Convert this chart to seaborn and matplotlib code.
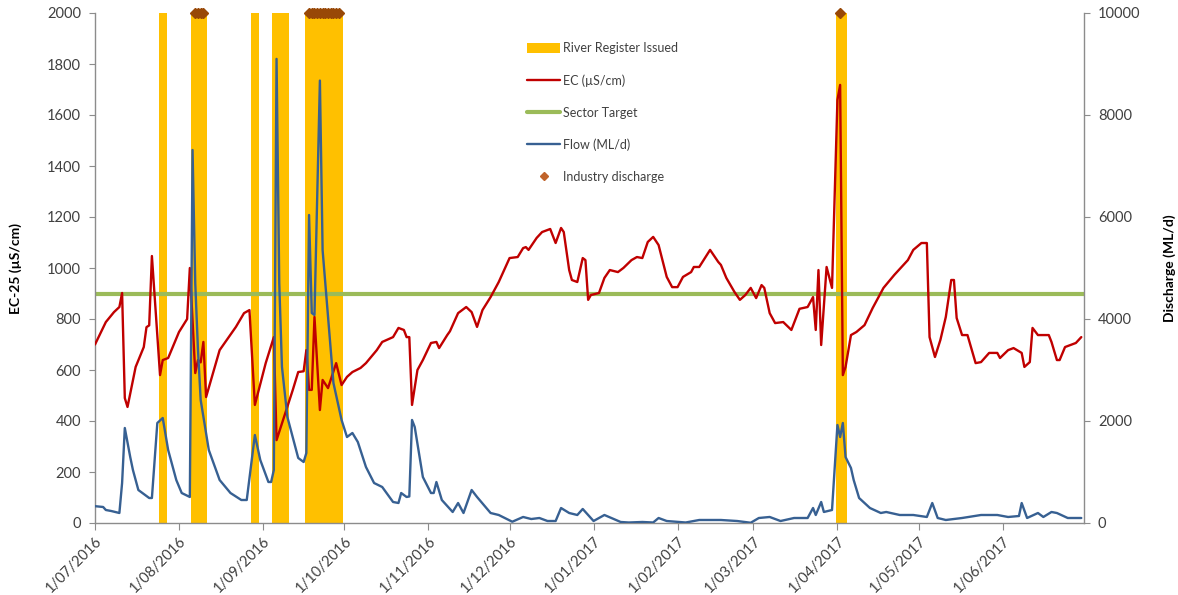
import pandas as pd
import matplotlib.pyplot as plt
import matplotlib.dates as mdates
import seaborn as sns
from matplotlib.patches import Patch
from matplotlib.lines import Line2D

sns.set_style('white')
plt.rcParams['font.family'] = ['Lato', 'DejaVu Sans']

# EC-25 readings (uS/cm)
ec_dates = ['2016-07-01', '2016-07-05', '2016-07-08', '2016-07-10', '2016-07-11', '2016-07-12', '2016-07-13',
            '2016-07-16', '2016-07-19', '2016-07-20', '2016-07-21', '2016-07-22', '2016-07-25', '2016-07-26',
            '2016-07-28', '2016-08-01', '2016-08-04', '2016-08-05', '2016-08-07', '2016-08-08', '2016-08-09',
            '2016-08-10', '2016-08-11', '2016-08-16', '2016-08-22', '2016-08-25', '2016-08-27', '2016-08-29',
            '2016-09-02', '2016-09-05', '2016-09-06', '2016-09-12', '2016-09-14', '2016-09-16', '2016-09-17',
            '2016-09-18', '2016-09-19', '2016-09-20', '2016-09-22', '2016-09-23', '2016-09-25', '2016-09-28',
            '2016-09-30', '2016-10-02', '2016-10-04', '2016-10-07', '2016-10-09', '2016-10-13', '2016-10-15',
            '2016-10-19', '2016-10-21', '2016-10-23', '2016-10-24', '2016-10-25', '2016-10-26', '2016-10-28',
            '2016-10-30', '2016-11-02', '2016-11-04', '2016-11-05', '2016-11-08', '2016-11-09', '2016-11-12',
            '2016-11-15', '2016-11-17', '2016-11-19', '2016-11-21', '2016-11-24', '2016-11-27', '2016-12-01',
            '2016-12-04', '2016-12-06', '2016-12-07', '2016-12-08', '2016-12-11', '2016-12-13', '2016-12-16',
            '2016-12-18', '2016-12-20', '2016-12-21', '2016-12-23', '2016-12-24', '2016-12-26', '2016-12-28',
            '2016-12-29', '2016-12-30', '2016-12-31', '2017-01-03', '2017-01-05', '2017-01-07', '2017-01-10',
            '2017-01-12', '2017-01-15', '2017-01-17', '2017-01-19', '2017-01-21', '2017-01-23', '2017-01-25',
            '2017-01-28', '2017-01-30', '2017-02-01', '2017-02-03', '2017-02-06', '2017-02-07', '2017-02-09',
            '2017-02-13', '2017-02-16', '2017-02-17', '2017-02-19', '2017-02-22', '2017-02-24', '2017-02-26',
            '2017-02-28', '2017-03-02', '2017-03-04', '2017-03-05', '2017-03-07', '2017-03-09', '2017-03-12',
            '2017-03-15', '2017-03-18', '2017-03-21', '2017-03-23', '2017-03-24', '2017-03-25', '2017-03-26',
            '2017-03-28', '2017-03-30', '2017-04-01', '2017-04-02', '2017-04-03', '2017-04-04', '2017-04-06',
            '2017-04-08', '2017-04-11', '2017-04-14', '2017-04-18', '2017-04-22', '2017-04-27', '2017-04-29',
            '2017-05-02', '2017-05-04', '2017-05-05', '2017-05-07', '2017-05-09', '2017-05-11', '2017-05-13',
            '2017-05-14', '2017-05-15', '2017-05-17', '2017-05-19', '2017-05-22', '2017-05-24', '2017-05-27',
            '2017-05-30', '2017-05-31', '2017-06-03', '2017-06-05', '2017-06-08', '2017-06-09', '2017-06-11',
            '2017-06-12', '2017-06-14', '2017-06-18', '2017-06-19', '2017-06-21', '2017-06-22', '2017-06-24',
            '2017-06-26', '2017-06-28', '2017-06-30']
ec_values = [700, 788, 827, 847, 902, 490, 455,
             612, 690, 768, 775, 1047, 580, 639,
             647, 749, 800, 1000, 588, 639, 630,
             710, 494, 678, 769, 823, 835, 463,
             627, 729, 325, 522, 592, 595, 678,
             522, 522, 808, 443, 561, 529, 627,
             541, 573, 592, 608, 627, 678, 710,
             729, 765, 757, 729, 729, 463, 600,
             639, 706, 710, 686, 737, 752, 823,
             847, 827, 769, 835, 886, 945, 1039,
             1043, 1078, 1082, 1071, 1118, 1141, 1153,
             1098, 1157, 1141, 992, 953, 945, 1039,
             1031, 875, 894, 902, 961, 992, 984,
             1000, 1031, 1043, 1039, 1102, 1122, 1090,
             965, 925, 925, 965, 984, 1004, 1004,
             1071, 1024, 1012, 961, 906, 875, 894,
             922, 882, 933, 922, 823, 784, 788,
             757, 840, 847, 886, 757, 992, 698,
             1004, 922, 1659, 1718, 580, 612, 737,
             749, 776, 843, 922, 973, 1031, 1071,
             1098, 1098, 729, 651, 718, 808, 953,
             953, 804, 737, 737, 627, 631, 667,
             667, 647, 678, 686, 667, 612, 631,
             765, 737, 737, 710, 639, 639, 690,
             698, 706, 729]

# river flow (ML/d)
flow_dates = ['2016-07-01', '2016-07-04', '2016-07-05', '2016-07-07', '2016-07-10', '2016-07-11', '2016-07-12',
              '2016-07-14', '2016-07-15', '2016-07-17', '2016-07-18', '2016-07-21', '2016-07-22', '2016-07-24',
              '2016-07-26', '2016-07-28', '2016-07-31', '2016-08-02', '2016-08-05', '2016-08-06', '2016-08-07',
              '2016-08-08', '2016-08-09', '2016-08-12', '2016-08-16', '2016-08-20', '2016-08-24', '2016-08-26',
              '2016-08-28', '2016-08-29', '2016-08-31', '2016-09-03', '2016-09-04', '2016-09-05', '2016-09-06',
              '2016-09-07', '2016-09-08', '2016-09-10', '2016-09-14', '2016-09-16', '2016-09-17', '2016-09-18',
              '2016-09-19', '2016-09-20', '2016-09-22', '2016-09-23', '2016-09-25', '2016-09-27', '2016-09-30',
              '2016-10-02', '2016-10-04', '2016-10-06', '2016-10-09', '2016-10-12', '2016-10-15', '2016-10-19',
              '2016-10-21', '2016-10-22', '2016-10-24', '2016-10-25', '2016-10-26', '2016-10-27', '2016-10-30',
              '2016-11-02', '2016-11-03', '2016-11-04', '2016-11-06', '2016-11-10', '2016-11-12', '2016-11-14',
              '2016-11-17', '2016-11-19', '2016-11-24', '2016-11-27', '2016-12-02', '2016-12-06', '2016-12-09',
              '2016-12-12', '2016-12-15', '2016-12-18', '2016-12-20', '2016-12-23', '2016-12-26', '2016-12-28',
              '2017-01-01', '2017-01-05', '2017-01-11', '2017-01-14', '2017-01-19', '2017-01-23', '2017-01-25',
              '2017-01-28', '2017-02-04', '2017-02-09', '2017-02-17', '2017-02-23', '2017-02-28', '2017-03-03',
              '2017-03-07', '2017-03-11', '2017-03-16', '2017-03-21', '2017-03-23', '2017-03-24', '2017-03-26',
              '2017-03-27', '2017-03-30', '2017-04-01', '2017-04-02', '2017-04-03', '2017-04-04', '2017-04-06',
              '2017-04-07', '2017-04-09', '2017-04-13', '2017-04-17', '2017-04-19', '2017-04-24', '2017-04-29',
              '2017-05-04', '2017-05-06', '2017-05-08', '2017-05-11', '2017-05-17', '2017-05-24', '2017-05-30',
              '2017-06-03', '2017-06-07', '2017-06-08', '2017-06-10', '2017-06-14', '2017-06-16', '2017-06-19',
              '2017-06-21', '2017-06-25', '2017-06-30']
flow_values = [330, 314, 255, 235, 196, 784, 1863,
               1294, 1039, 647, 608, 490, 490, 1961,
               2059, 1431, 843, 588, 510, 7314, 4700,
               3400, 2412, 1431, 843, 588, 451, 451,
               1294, 1725, 1235, 804, 804, 1039, 9100,
               4700, 3060, 2078, 1275, 1196, 1373, 6039,
               4118, 4078, 8675, 5350, 4040, 2745, 2020,
               1686, 1765, 1588, 1098, 784, 706, 412,
               392, 588, 510, 520, 2020, 1882, 902,
               588, 588, 804, 451, 216, 392, 196,
               647, 510, 196, 157, 25, 118, 78,
               98, 39, 39, 294, 196, 157, 275,
               39, 157, 20, 10, 20, 10, 98,
               39, 10, 59, 59, 39, 5, 98,
               118, 39, 98, 98, 294, 157, 412,
               216, 255, 1922, 1686, 1961, 1294, 1078,
               843, 490, 294, 196, 216, 157, 157,
               118, 392, 98, 59, 98, 157, 157,
               118, 137, 392, 98, 196, 118, 216,
               196, 98, 98]

# river register periods (drawn as full-height columns on the discharge axis)
register_start = ['2016-07-25', '2016-08-06', '2016-08-28', '2016-09-05', '2016-09-17', '2017-04-01']
register_end = ['2016-07-27', '2016-08-11', '2016-08-30', '2016-09-10', '2016-09-30', '2017-04-04']
register_level = [10000, 10000, 10000, 10000, 10000, 10000]

industry_dates = ['2016-08-07', '2016-08-08', '2016-08-09', '2016-08-10',
                  '2016-09-18', '2016-09-19', '2016-09-20', '2016-09-21', '2016-09-22', '2016-09-23',
                  '2016-09-24', '2016-09-25', '2016-09-26', '2016-09-27', '2016-09-28', '2016-09-29',
                  '2017-04-02']
industry_level = [10000] * len(industry_dates)

sector_target = 900

month_ticks = ['2016-07-01', '2016-08-01', '2016-09-01', '2016-10-01', '2016-11-01', '2016-12-01',
               '2017-01-01', '2017-02-01', '2017-03-01', '2017-04-01', '2017-05-01', '2017-06-01']

ec_col = '#C00000'
flow_col = '#376092'
target_col = '#9BBB59'
reg_col = '#FFC000'
ind_col = '#984807'
axis_col = '#8C8C8C'
text_col = '#404040'

fig, ax = plt.subplots(figsize=(11.78, 5.95), dpi=100)
fig.subplots_adjust(left=95/1178, right=1084/1178, bottom=72/595, top=1-13/595)

sns.lineplot(x=pd.to_datetime(ec_dates), y=ec_values, ax=ax, color=ec_col, linewidth=1.7, zorder=3)
ax.axhline(sector_target, color=target_col, linewidth=3, zorder=2)

ax_reg = ax.twinx()
ax2 = ax.twinx()

starts = mdates.date2num(pd.to_datetime(register_start))
ends = mdates.date2num(pd.to_datetime(register_end))
ax_reg.bar(starts - 0.5, register_level, width=ends - starts + 1, align='edge', color=reg_col, linewidth=0)

sns.lineplot(x=pd.to_datetime(flow_dates), y=flow_values, ax=ax2, color=flow_col, linewidth=1.7)
ax2.plot(pd.to_datetime(industry_dates), industry_level, linestyle='none', marker='D', markersize=5,
         color=ind_col, clip_on=False, zorder=5)

ax_reg.set_zorder(0)
ax.set_zorder(1)
ax2.set_zorder(2)
ax.patch.set_visible(False)
ax2.patch.set_visible(False)

ax.set_xlim(pd.Timestamp('2016-07-01'), pd.Timestamp('2017-07-01'))
ax.set_ylim(0, 2000)
ax2.set_ylim(0, 10000)
ax_reg.set_ylim(0, 10000)

ax.set_yticks(range(0, 2001, 200))
ax2.set_yticks(range(0, 10001, 2000))
ticks = pd.to_datetime(month_ticks)
ax.set_xticks(ticks)
ax.set_xticklabels([f'{d.day}/{d.month:02d}/{d.year}' for d in ticks], rotation=45, ha='right',
                   rotation_mode='anchor')

for a in (ax, ax2, ax_reg):
    for s in a.spines.values():
        s.set_visible(False)
ax.spines['left'].set_visible(True)
ax.spines['bottom'].set_visible(True)
ax2.spines['right'].set_visible(True)
for s in (ax.spines['left'], ax.spines['bottom'], ax2.spines['right']):
    s.set_color(axis_col)
    s.set_linewidth(1)

ax_reg.set_yticks([])
ax.tick_params(axis='both', which='major', left=True, bottom=True, length=4, color=axis_col,
               labelsize=10.5, labelcolor=text_col, direction='out')
ax.tick_params(axis='y', pad=6)
ax.tick_params(axis='x', length=5, pad=3)
ax2.tick_params(axis='y', right=True, length=4, color=axis_col, labelsize=10.5, labelcolor=text_col,
                direction='out', pad=6)

ax.set_xlabel('')
ax.set_ylabel('EC-25 (µS/cm)', fontsize=10, fontweight='bold', color='black')
ax2.set_ylabel('Discharge (ML/d)', fontsize=10, fontweight='bold', color='black', rotation=90)
ax.yaxis.set_label_coords(-0.074, 0.5)
ax2.yaxis.set_label_coords(1.08, 0.5)

handles = [Patch(facecolor=reg_col, edgecolor='none'),
           Line2D([], [], color=ec_col, linewidth=1.7),
           Line2D([], [], color=target_col, linewidth=3),
           Line2D([], [], color=flow_col, linewidth=1.7),
           Line2D([], [], color='#C0632A', marker='D', markersize=4, linestyle='none')]
labels = ['River Register Issued', 'EC (µS/cm)', 'Sector Target', 'Flow (ML/d)', 'Industry discharge']
fig.legend(handles, labels, loc='upper left', bbox_to_anchor=(527/1178, 1-42/595), frameon=False,
           fontsize=9, handlelength=2.65, handleheight=0.9, handletextpad=0.2, labelspacing=1.6,
           borderaxespad=0, borderpad=0, labelcolor=text_col)

fig.savefig('out.png', dpi=100)
